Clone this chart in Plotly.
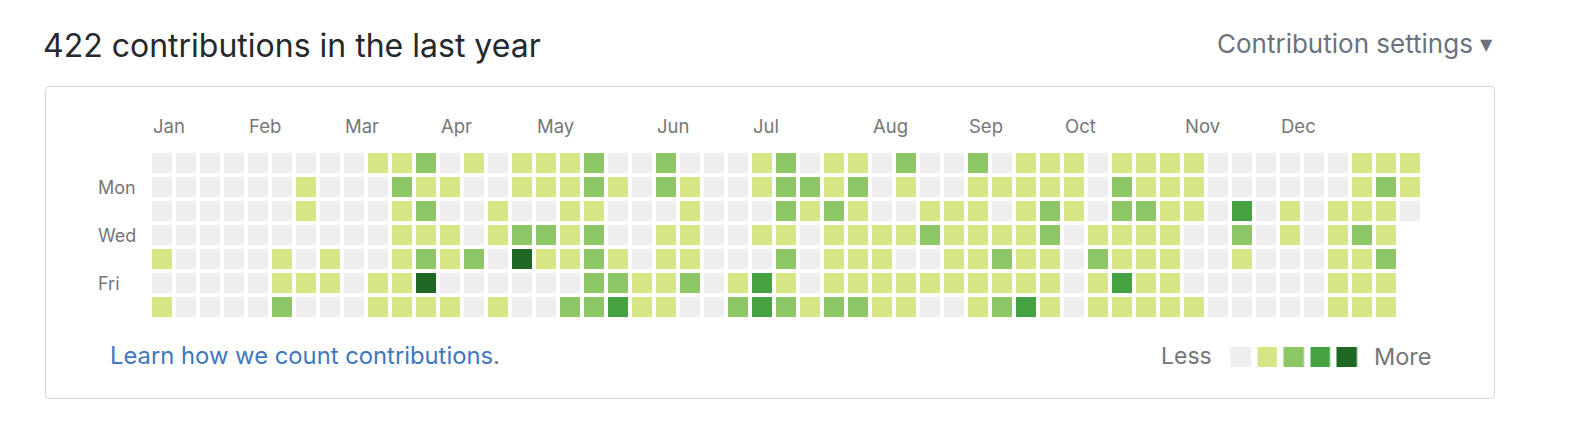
import plotly.graph_objects as go

# ---------------- data ----------------
weekday_labels = ["Mon", "Wed", "Fri"]
weekday_rows = [1, 3, 5]

month_labels = ["Jan", "Feb", "Mar", "Apr", "May", "Jun", "Jul", "Aug", "Sep", "Oct", "Nov", "Dec"]
month_start_cols = [0, 4, 8, 12, 16, 21, 25, 30, 34, 38, 43, 47]

# contribution level (0-4) per weekday row (Sun..Sat) and week column
sun = [0,0,0,0,0,0,0,0,0,1,1, 2,0,1,0,1,1,1,2,0,0,2, 0,0,0,1,2,0,1,1,0,2,0, 0,2,0,1,1,1,0,1,1,1,1, 0,0,0,0,0,0,1,1,1]
mon = [0,0,0,0,0,0,1,0,0,0,2, 1,1,0,0,1,1,1,2,1,0,2, 1,0,0,1,2,2,1,2,0,1,0, 0,1,1,1,1,1,0,2,1,1,1, 0,0,0,0,0,0,1,2,1]
tue = [0,0,0,0,0,0,1,0,0,0,1, 2,0,0,1,0,0,1,1,0,0,0, 1,0,0,0,2,1,2,1,0,0,1, 1,1,0,1,2,1,0,2,2,1,1, 0,3,0,1,0,1,1,1,0]
wed = [0,0,0,0,0,0,0,0,0,0,1, 1,1,0,1,2,2,1,2,0,0,1, 1,0,0,1,1,0,1,1,1,1,2, 1,1,1,1,2,0,1,1,1,1,0, 0,2,0,1,0,1,2,1,None]
thu = [1,0,0,0,0,1,0,1,0,0,1, 2,1,2,0,4,1,1,2,1,0,1, 1,0,0,0,2,0,1,1,1,0,0, 1,1,2,1,1,0,2,1,1,1,0, 0,1,0,0,0,1,1,2,None]
fri = [0,0,0,0,0,1,1,1,0,1,1, 4,0,0,0,0,0,0,2,2,1,1, 2,0,1,3,1,0,1,1,1,1,1, 1,1,1,1,1,0,1,3,1,1,0, 0,0,0,0,0,1,1,1,None]
sat = [1,0,0,0,0,2,0,0,0,1,1, 1,1,0,1,0,0,2,2,3,1,1, 0,0,2,3,2,1,2,2,1,1,0, 0,1,2,3,1,0,1,1,1,1,1, 0,0,0,0,0,1,1,1,None]

legend_levels = [0, 1, 2, 3, 4]
level_colors = ["#eeeeee", "#d6e685", "#8cc665", "#44a340", "#1e6823"]

title_text = "422 contributions in the last year"
settings_text = "Contribution settings"
learn_text = "Learn how we count contributions"

# ---------------- figure ----------------
W, H = 1570, 442
def px(x):
    return x / W
def py(y):
    return 1 - y / H

grid = [sun, mon, tue, wed, thu, fri, sat]
n_cols = len(sun)

colorscale = [[i / 4, c] for i, c in enumerate(level_colors)]
FONT = "Inter, Liberation Sans, Arial, sans-serif"

fig = go.Figure()
fig.add_trace(go.Heatmap(
    z=grid, x=list(range(n_cols)), y=list(range(7)),
    colorscale=colorscale, zmin=0, zmax=4, showscale=False,
    xgap=4, ygap=4, hoverinfo="skip",
    xaxis="x", yaxis="y",
))
fig.add_trace(go.Heatmap(
    z=[legend_levels], x=list(range(len(legend_levels))), y=[0],
    colorscale=colorscale, zmin=0, zmax=4, showscale=False,
    xgap=6.5, ygap=0, hoverinfo="skip",
    xaxis="x2", yaxis="y2",
))

pitch = 24
gx0 = 150
gy0 = 151
ax_common = dict(showgrid=False, zeroline=False, showticklabels=False, ticks="", showline=False, fixedrange=True)
fig.update_layout(
    width=W, height=H,
    margin=dict(l=0, r=0, t=0, b=0),
    paper_bgcolor="white", plot_bgcolor="white",
    showlegend=False,
    xaxis=dict(domain=[px(gx0), px(gx0 + pitch * n_cols)], range=[-0.5, n_cols - 0.5], **ax_common),
    yaxis=dict(domain=[py(gy0 + pitch * 7), py(gy0)], range=[6.5, -0.5], **ax_common),
    xaxis2=dict(domain=[px(1227.5), px(1227.5 + 26.5 * 5)], range=[-0.5, 4.5], anchor="y2", **ax_common),
    yaxis2=dict(domain=[py(367), py(347)], range=[-0.5, 0.5], anchor="x2", **ax_common),
)

# box border with rounded corners
bx0, by0, bx1, by1, r = 45.5, 86.5, 1494.5, 398.5, 4
path = (
    f"M {px(bx0 + r)} {py(by0)} L {px(bx1 - r)} {py(by0)} "
    f"Q {px(bx1)} {py(by0)} {px(bx1)} {py(by0 + r)} "
    f"L {px(bx1)} {py(by1 - r)} Q {px(bx1)} {py(by1)} {px(bx1 - r)} {py(by1)} "
    f"L {px(bx0 + r)} {py(by1)} Q {px(bx0)} {py(by1)} {px(bx0)} {py(by1 - r)} "
    f"L {px(bx0)} {py(by0 + r)} Q {px(bx0)} {py(by0)} {px(bx0 + r)} {py(by0)} Z"
)
fig.add_shape(type="path", path=path, xref="paper", yref="paper",
              line=dict(color="#d1d5da", width=1), fillcolor="rgba(0,0,0,0)", layer="below")

ann = []
ann.append(dict(text=title_text, x=px(41), y=py(46), xref="paper", yref="paper",
                xanchor="left", yanchor="middle", showarrow=False,
                font=dict(family=FONT, size=32, color="#24292e")))
ann.append(dict(text=settings_text, x=px(1475), y=py(44), xref="paper", yref="paper",
                xanchor="right", yanchor="middle", showarrow=False,
                font=dict(family=FONT, size=26, color="#6a737d")))
ann.append(dict(text="▼", x=px(1478), y=py(45), xref="paper", yref="paper",
                xanchor="left", yanchor="middle", showarrow=False,
                font=dict(family="DejaVu Sans", size=16, color="#6a737d")))
ann.append(dict(text=learn_text + "<span style='color:#767676'>.</span>", x=px(108), y=py(355),
                xref="paper", yref="paper", xanchor="left", yanchor="middle", showarrow=False,
                font=dict(family=FONT, size=23.8, color="#4078c0")))
ann.append(dict(text="Less", x=px(1214), y=py(356), xref="paper", yref="paper",
                xanchor="right", yanchor="middle", showarrow=False,
                font=dict(family=FONT, size=23, color="#767676")))
ann.append(dict(text="More", x=px(1372), y=py(356), xref="paper", yref="paper",
                xanchor="left", yanchor="middle", showarrow=False,
                font=dict(family=FONT, size=23.5, color="#767676")))
for lab, col in zip(month_labels, month_start_cols):
    ann.append(dict(text=lab, x=col - 0.5 + 1 / pitch, y=py(126), xref="x", yref="paper",
                    xanchor="left", yanchor="middle", showarrow=False,
                    font=dict(family=FONT, size=18.5, color="#767676")))
for lab, row in zip(weekday_labels, weekday_rows):
    ann.append(dict(text=lab, x=px(96), y=row, xref="paper", yref="y",
                    xanchor="left", yanchor="middle", showarrow=False,
                    font=dict(family=FONT, size=18, color="#767676")))
fig.update_layout(annotations=ann)

fig.write_html("out.html", config={"displayModeBar": False},
               post_script="document.body.style.margin='0';")
